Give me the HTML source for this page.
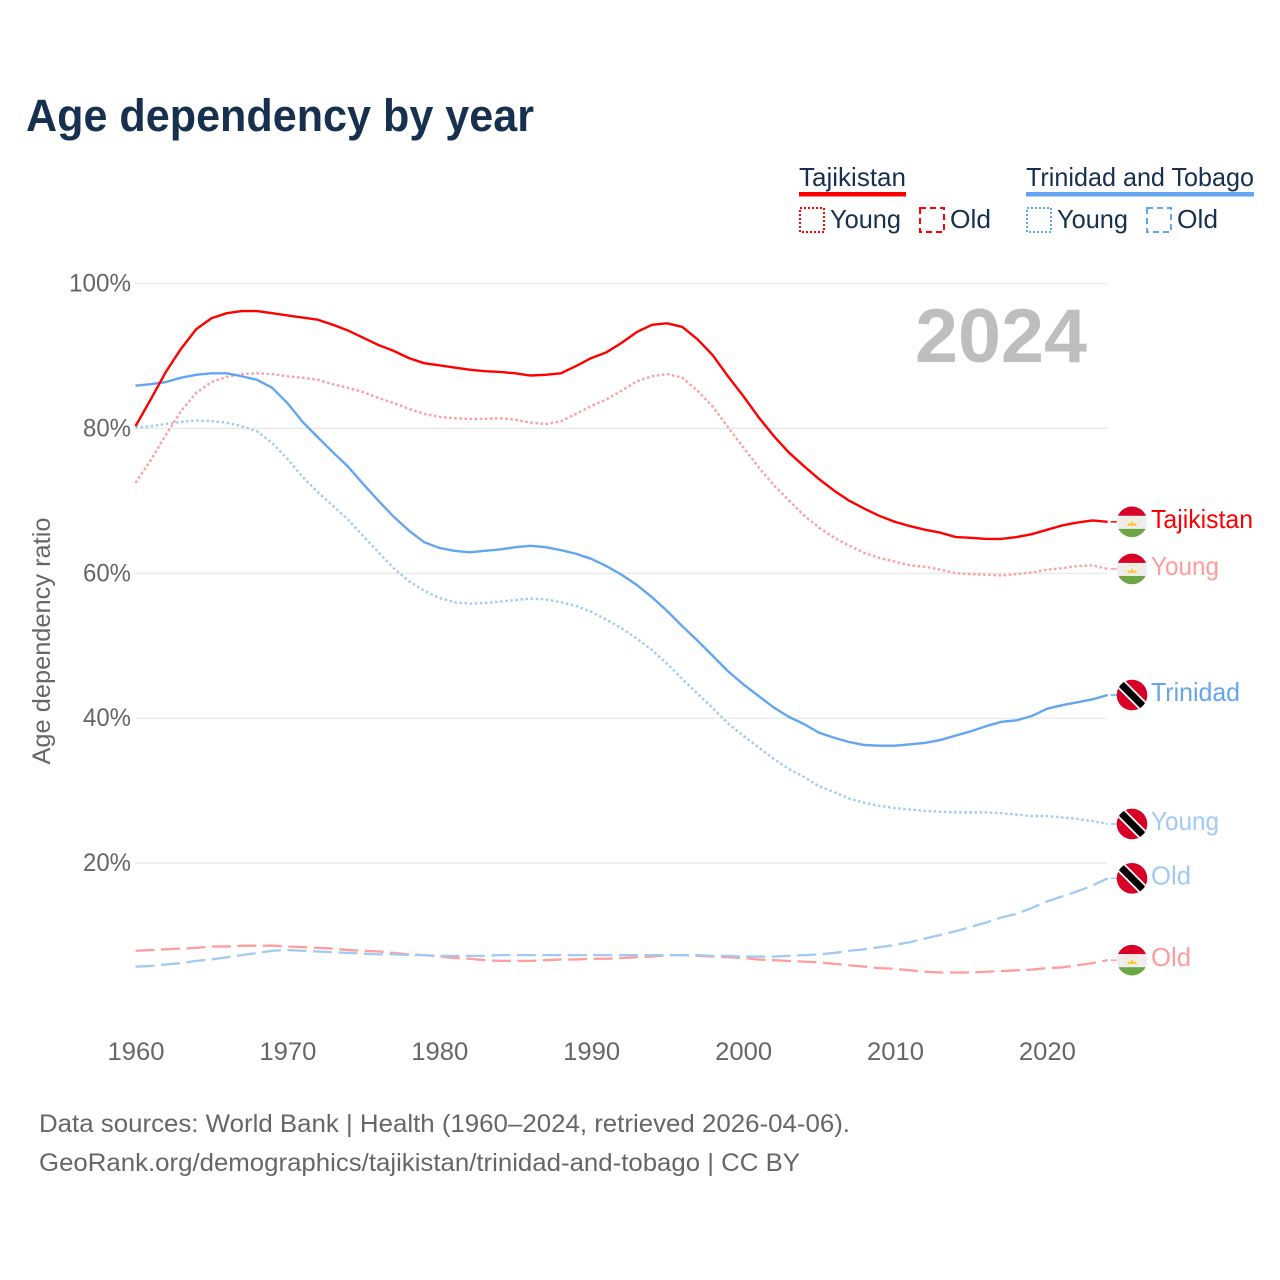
<!DOCTYPE html>
<html lang="en">
<head>
<meta charset="utf-8">
<title>Age dependency by year</title>
<style>
html,body{margin:0;padding:0;background:#fff;width:1280px;height:1280px;overflow:hidden}
svg{display:block}
text{font-family:"Liberation Sans",sans-serif}
</style>
</head>
<body>
<svg id="chart" xmlns="http://www.w3.org/2000/svg" width="1280" height="1280" viewBox="0 0 1280 1280">
  <defs>
    <clipPath id="flag-clip"><circle cx="0" cy="0" r="15.3"></circle></clipPath>
  </defs>
  <rect x="0" y="0" width="1280" height="1280" fill="#fff"></rect>
  <text x="26" y="131" font-size="45" font-weight="bold" fill="#17304f" textLength="508" lengthAdjust="spacingAndGlyphs">Age dependency by year</text>

  <g>
    <text x="799" y="186" font-size="26" fill="#17304f" textLength="107" lengthAdjust="spacingAndGlyphs">Tajikistan</text>
    <rect x="799" y="192" width="107" height="4.5" fill="#ff0000"></rect>
    <rect x="800" y="208" width="24" height="24" fill="none" stroke="#ff0000" stroke-width="2" stroke-dasharray="2 2"></rect>
    <text x="830" y="228" font-size="26" fill="#17304f" textLength="71" lengthAdjust="spacingAndGlyphs">Young</text>
    <rect x="920" y="208" width="24" height="24" fill="none" stroke="#ff0000" stroke-width="2" stroke-dasharray="6 4"></rect>
    <text x="950" y="228" font-size="26" fill="#17304f" textLength="41" lengthAdjust="spacingAndGlyphs">Old</text>

    <text x="1026" y="186" font-size="26" fill="#17304f" textLength="228" lengthAdjust="spacingAndGlyphs">Trinidad and Tobago</text>
    <rect x="1026" y="192" width="228" height="4.5" fill="#63a6ef"></rect>
    <rect x="1027" y="208" width="24" height="24" fill="none" stroke="#63a6ef" stroke-width="2" stroke-dasharray="2 2"></rect>
    <text x="1057" y="228" font-size="26" fill="#17304f" textLength="71" lengthAdjust="spacingAndGlyphs">Young</text>
    <rect x="1147" y="208" width="24" height="24" fill="none" stroke="#63a6ef" stroke-width="2" stroke-dasharray="6 4"></rect>
    <text x="1177" y="228" font-size="26" fill="#17304f" textLength="41" lengthAdjust="spacingAndGlyphs">Old</text>
  </g>

  <g id="grid"></g>
  <g id="y-ticks"></g>
  <g id="x-ticks"></g>
  <text transform="translate(50,641) rotate(-90)" text-anchor="middle" font-size="25" fill="#666666" textLength="247" lengthAdjust="spacingAndGlyphs">Age dependency ratio</text>
  <text x="915" y="362" font-size="76" font-weight="bold" fill="#bebebe" textLength="172" lengthAdjust="spacingAndGlyphs">2024</text>
  <g id="series"></g>
  <g id="ends"></g>

  <text x="39" y="1132" font-size="25" fill="#666666" textLength="811" lengthAdjust="spacingAndGlyphs">Data sources: World Bank | Health (1960–2024, retrieved 2026-04-06).</text>
  <text x="39" y="1171" font-size="25" fill="#666666" textLength="761" lengthAdjust="spacingAndGlyphs">GeoRank.org/demographics/tajikistan/trinidad-and-tobago | CC BY</text>
</svg>
<script>
const startYear = 1960;
const xTickYears = [1960, 1970, 1980, 1990, 2000, 2010, 2020];
const yTickValues = [20, 40, 60, 80, 100];
const tajikTotal = [80.3,84,87.8,91,93.7,95.2,95.9,96.2,96.2,95.9,95.6,95.3,95,94.3,93.5,92.5,91.5,90.7,89.7,89,88.7,88.4,88.1,87.9,87.8,87.6,87.3,87.4,87.6,88.6,89.7,90.5,91.8,93.3,94.3,94.5,94,92.3,90.1,87.2,84.5,81.6,79,76.7,74.8,73,71.4,70,68.9,67.9,67.1,66.5,66,65.6,65,64.9,64.75,64.75,65,65.4,66,66.6,67,67.3,67.1];
const tajikYoung = [72.5,75.6,79.1,82.4,84.9,86.4,87.1,87.5,87.6,87.5,87.2,87,86.7,86.1,85.6,85,84.2,83.5,82.7,82,81.6,81.4,81.3,81.3,81.4,81.2,80.8,80.6,81,82,83.1,84,85.2,86.5,87.2,87.5,87,85.2,83,80.2,77.4,74.7,72.2,70.1,68,66.3,64.9,63.8,62.8,62.1,61.6,61.1,60.9,60.5,60,59.9,59.8,59.7,59.9,60.1,60.5,60.7,61,61.1,60.6];
const tajikOld = [7.9,8,8.1,8.2,8.3,8.5,8.5,8.6,8.6,8.6,8.5,8.4,8.3,8.2,8,7.9,7.8,7.6,7.4,7.3,7.1,6.9,6.8,6.6,6.5,6.5,6.5,6.6,6.7,6.7,6.8,6.8,6.9,7,7.1,7.3,7.3,7.2,7.1,7,6.9,6.7,6.6,6.5,6.4,6.3,6.1,5.9,5.7,5.5,5.4,5.2,5,4.9,4.9,4.9,5,5.1,5.2,5.3,5.5,5.6,5.9,6.2,6.6];
const trinidadTotal = [85.9,86.1,86.4,87,87.4,87.6,87.6,87.2,86.7,85.6,83.5,80.9,78.8,76.7,74.7,72.3,70,67.8,65.9,64.3,63.5,63.1,62.9,63.1,63.3,63.6,63.8,63.6,63.2,62.7,62,61,59.8,58.4,56.7,54.8,52.7,50.7,48.6,46.5,44.7,43.1,41.5,40.2,39.2,38,37.3,36.7,36.3,36.2,36.2,36.4,36.6,37,37.6,38.2,38.9,39.5,39.7,40.3,41.3,41.8,42.2,42.6,43.2];
const trinidadYoung = [80.1,80.3,80.6,80.9,81.1,81,80.8,80.3,79.6,78,75.8,73.3,71.2,69.3,67.4,65.1,62.9,60.7,58.9,57.6,56.6,56,55.8,55.9,56.1,56.3,56.5,56.4,56,55.5,54.7,53.6,52.4,51,49.4,47.5,45.4,43.4,41.4,39.3,37.6,36,34.4,33,31.9,30.6,29.8,28.9,28.3,27.9,27.6,27.4,27.2,27.1,27,27,27,26.9,26.7,26.5,26.5,26.3,26.1,25.8,25.4];
const trinidadOld = [5.7,5.8,6,6.2,6.5,6.7,7,7.3,7.6,7.9,8,7.9,7.8,7.7,7.6,7.5,7.4,7.4,7.3,7.3,7.2,7.2,7.2,7.2,7.3,7.3,7.3,7.3,7.3,7.3,7.3,7.3,7.3,7.3,7.3,7.3,7.3,7.3,7.2,7.2,7.1,7.1,7.1,7.2,7.3,7.4,7.6,7.9,8.1,8.4,8.7,9.1,9.6,10.1,10.6,11.2,11.8,12.5,13,13.8,14.7,15.4,16.1,16.9,17.9];

const SVGNS = 'http://www.w3.org/2000/svg';
const xScale = function (year) { return 135.5 + (year - 1960) * 15.19; };
const yScale = function (value) { return 1008 - value * 7.245; };

function mk(tag, attrs, parent) {
  const el = document.createElementNS(SVGNS, tag);
  Object.keys(attrs).forEach(function (k) { el.setAttribute(k, attrs[k]); });
  parent.appendChild(el);
  return el;
}

function linePath(values) {
  return values.map(function (v, i) {
    return (i ? 'L' : 'M') + xScale(startYear + i).toFixed(2) + ' ' + yScale(v).toFixed(2);
  }).join(' ');
}

const gridG = document.getElementById('grid');
const yG = document.getElementById('y-ticks');
yTickValues.forEach(function (v) {
  const line = mk('line', { x1: 135, x2: 1107, y1: yScale(v), y2: yScale(v), stroke: '#e6e6e6', 'stroke-width': 1.2 }, gridG);
  
  
  const label = mk('text', { x: 131, y: yScale(v) + 8, 'text-anchor': 'end', 'font-size': 25, fill: '#666666', textLength: v === 100 ? 62 : 48, lengthAdjust: 'spacingAndGlyphs' }, yG);
  label.textContent = v + '%';
  
  
});

const xG = document.getElementById('x-ticks');
xTickYears.forEach(function (yr) {
  const label = mk('text', { x: xScale(yr) + 0.5, y: 1060, 'text-anchor': 'middle', 'font-size': 25, fill: '#666666', textLength: 57, lengthAdjust: 'spacingAndGlyphs' }, xG);
  label.textContent = String(yr);
  
  
});

const seriesDefs = [
  { key: 'tajikistan-old', values: tajikOld, color: '#ff9d9d', dash: '19 6.5', flag: 'tj', label: 'Old', w: 40, sw: 2.3 },
  { key: 'trinidad-old', values: trinidadOld, color: '#a1c9f4', dash: '19 6.5', flag: 'tt', label: 'Old', w: 40, sw: 2.3 },
  { key: 'tajikistan-young', values: tajikYoung, color: '#ff9d9d', dash: '2.5 2.6', flag: 'tj', label: 'Young', w: 68, sw: 2.4 },
  { key: 'trinidad-young', values: trinidadYoung, color: '#a1c9f4', dash: '2.5 2.6', flag: 'tt', label: 'Young', w: 68, sw: 2.4 },
  { key: 'trinidad-total', values: trinidadTotal, color: '#63a6ef', dash: '', flag: 'tt', label: 'Trinidad', w: 89, sw: 2.4 },
  { key: 'tajikistan-total', values: tajikTotal, color: '#ff0000', dash: '', flag: 'tj', label: 'Tajikistan', w: 102, sw: 2.4 }
];

function drawFlag(kind, cy, parent) {
  const g = mk('g', { transform: 'translate(1132,' + cy + ')', 'clip-path': 'url(#flag-clip)' }, parent);
  
  
  if (kind === 'tj') {
    mk('rect', { x: -16, y: -16, width: 32, height: 10, fill: '#d80027' }, g);
    mk('rect', { x: -16, y: -6, width: 32, height: 13, fill: '#eeeeee' }, g);
    mk('rect', { x: -16, y: 7, width: 32, height: 9, fill: '#6da544' }, g);
    mk('path', { d: 'M-5 4 L-4 1 L-2 2 L0 -1 L2 2 L4 1 L5 4 Z', fill: '#ffc83d' }, g);
    mk('path', { d: 'M-8 2 A8 6 0 0 1 8 2', fill: 'none', stroke: '#ffda6a', 'stroke-width': 1.2, 'stroke-dasharray': '1.2 2' }, g);
  } else {
    mk('rect', { x: -16, y: -16, width: 32, height: 32, fill: '#d80027' }, g);
    mk('line', { x1: -14, y1: -14, x2: 14, y2: 14, stroke: '#ffffff', 'stroke-width': 10.5 }, g);
    mk('line', { x1: -14, y1: -14, x2: 14, y2: 14, stroke: '#000000', 'stroke-width': 7 }, g);
  }
}

const seriesG = document.getElementById('series');
const endsG = document.getElementById('ends');
seriesDefs.forEach(function (s) {
  const path = mk('path', { d: linePath(s.values), fill: 'none', stroke: s.color, 'stroke-width': s.sw, 'stroke-linejoin': 'round' }, seriesG);
  if (s.dash) path.setAttribute('stroke-dasharray', s.dash);
  
  

  const last = s.values[s.values.length - 1];
  const ly = yScale(last);
  const conn = mk('line', { x1: xScale(2024) + 3, x2: 1118, y1: ly, y2: ly, stroke: s.color, 'stroke-width': 1.5 }, endsG);
  
  
  drawFlag(s.flag, ly, endsG);
  const t = mk('text', { x: 1151, y: ly + 6, 'font-size': 26, fill: s.color, textLength: s.w, lengthAdjust: 'spacingAndGlyphs' }, endsG);
  t.textContent = s.label;
  
  
});
</script>
</body>
</html>
